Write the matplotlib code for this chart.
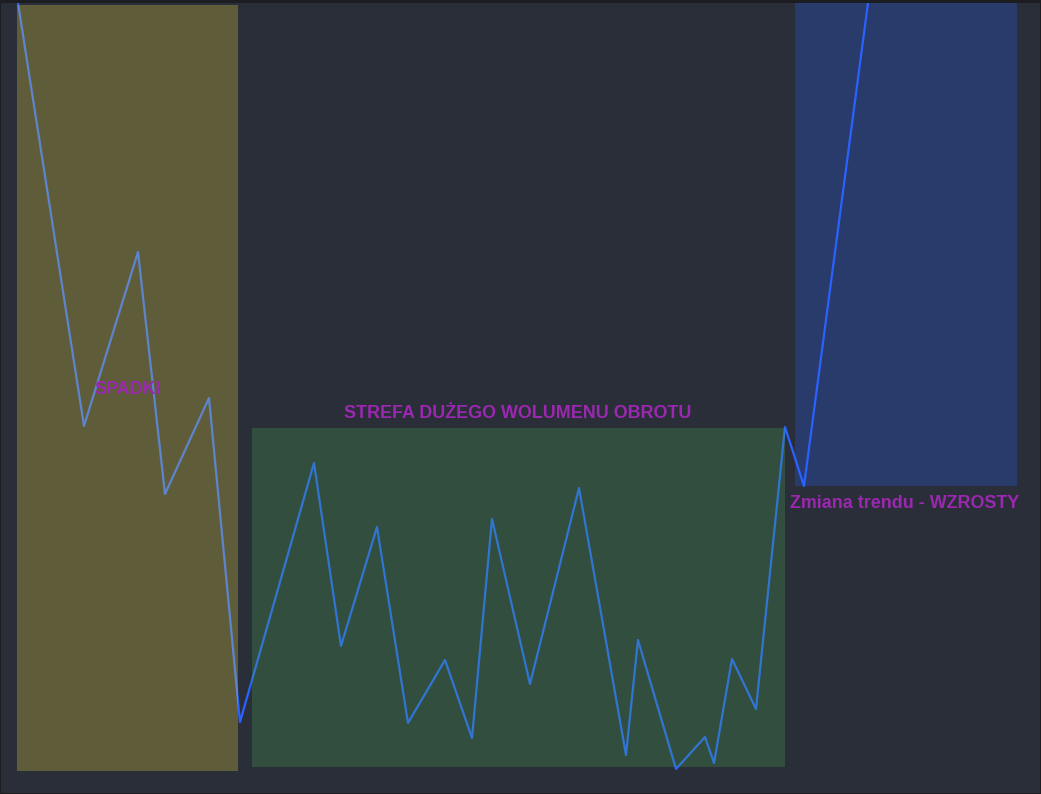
import matplotlib.pyplot as plt
from matplotlib.patches import Rectangle

# price path (bar index, price)
bars = [18, 84, 138, 165, 209, 240, 314, 341, 377, 408, 445, 472, 492, 530,
        579, 626, 638, 676, 705, 714, 732, 756, 785, 804, 868]
prices = [797, 374, 548, 306, 402, 78, 337, 154, 273, 77, 140, 62, 281, 116,
          312, 45, 160, 31, 63, 37, 141, 91, 373, 314, 797]

# zones: (start bar, end bar, low price, high price)
zone_names = ["SPADKI", "STREFA DUŻEGO WOLUMENU OBROTU", "Zmiana trendu - WZROSTY"]
zone_x0 = [17, 252, 795]
zone_x1 = [238, 785, 1017]
zone_lo = [29, 33, 314]
zone_hi = [795, 372, 797]
zone_colors = ["#ffeb3b", "#4caf50", "#2962ff"]

# label anchor (bar, price)
label_x = [128, 518, 905]
label_y = [410, 386, 297]

fig = plt.figure(figsize=(10.41, 7.94), dpi=100)
fig.patch.set_facecolor("#1c1d21")
ax = fig.add_axes([1 / 1041, 1 / 794, 1039 / 1041, 790 / 794])
ax.set_facecolor("#2a2e39")
ax.set_xlim(1, 1040)
ax.set_ylim(7, 797)
ax.set_xticks([])
ax.set_yticks([])
for s in ax.spines.values():
    s.set_visible(False)

ax.plot(bars, prices, color="#2962ff", lw=1.6, zorder=1)

for x0, x1, lo, hi, c in zip(zone_x0, zone_x1, zone_lo, zone_hi, zone_colors):
    ax.add_patch(Rectangle((x0, lo), x1 - x0, hi - lo, facecolor=c, alpha=0.25,
                           edgecolor="none", zorder=2))

for name, x, y in zip(zone_names, label_x, label_y):
    ax.text(x, y, name, color="#9c27b0", fontsize=12.9, fontweight="bold",
            family="Liberation Sans", ha="center", va="center", zorder=3)

fig.savefig("out.png", dpi=100, facecolor=fig.get_facecolor())
